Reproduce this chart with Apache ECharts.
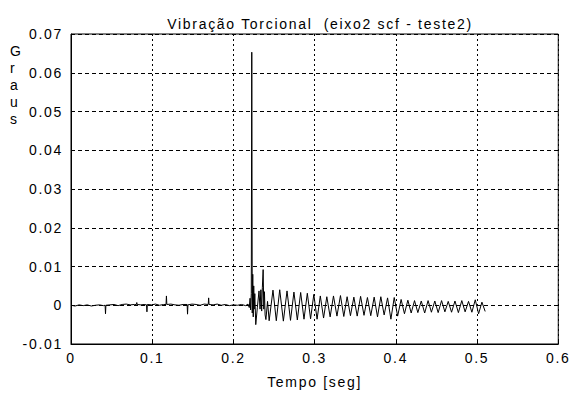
<!DOCTYPE html>
<html lang="pt">
<head>
    <meta charset="UTF-8">
    <title>Vibracao Torcional</title>
    <script src="https://cdn.jsdelivr.net/npm/echarts@6/dist/echarts.min.js"></script>
    <style>
        body { margin: 0; background: #fff; }
        #chart { width: 571px; height: 394px; }
        /* o grafico original tem letras bem espacadas */
        #chart text { letter-spacing: 1.7px; }
    </style>
</head>
<body>
<div id="chart"></div>
<script>
    // trecho calmo antes do impacto (tempo em s, graus)
    var quietT = [0, 0.005, 0.010, 0.015, 0.020, 0.025, 0.030, 0.035, 0.040, 0.042, 0.0425, 0.043,
        0.048, 0.053, 0.058, 0.063, 0.068, 0.073, 0.078, 0.0805, 0.081, 0.0815, 0.086, 0.090, 0.093, 0.0935, 0.094,
        0.099, 0.104, 0.109, 0.114, 0.117, 0.1175, 0.118, 0.123, 0.128, 0.133, 0.138, 0.143, 0.1435, 0.144,
        0.149, 0.154, 0.159, 0.164, 0.169, 0.1695, 0.170, 0.175, 0.180, 0.185, 0.190, 0.195, 0.200, 0.205,
        0.210, 0.215, 0.218];
    var quietV = [0, -0.0002, 0.0001, -0.0001, 0.0001, -0.0002, 0, 0.0001, -0.0001, 0, -0.0022, 0,
        0.0001, 0.0002, -0.0001, 0.0002, 0.0003, 0.0001, 0.0002, 0.0002, 0.0007, 0.0002, 0.0001, 0.0002, 0.0001, -0.0017, 0.0002,
        0.0001, 0.0003, 0, 0.0002, 0.0002, 0.0024, 0.0002, 0.0003, 0.0001, 0, 0.0002, 0.0002, -0.0023, 0.0001,
        0.0003, 0.0002, 0, 0.0003, 0.0002, 0.0019, 0.0002, 0.0001, 0.0003, 0, 0.0002, -0.0001, 0.0001, 0,
        0.0002, -0.0001, 0.0003];

    // impacto
    var burstT = [0.2195, 0.2205, 0.2212, 0.2220, 0.2226, 0.2232, 0.2238, 0.2244, 0.2250, 0.2256, 0.2263,
        0.2275, 0.2295, 0.2315, 0.2328, 0.2338, 0.2348, 0.2356, 0.2366, 0.2374, 0.2382, 0.2390, 0.2400,
        0.2420, 0.2440];
    var burstV = [-0.0006, 0.0018, -0.0012, 0.0030, 0.0653, -0.0020, 0.0080, -0.0030, 0.0050, -0.0010, 0.0030,
        -0.0050, -0.0005, 0.0037, -0.0010, 0.0040, -0.0015, 0.0045, 0.0092, -0.0010, 0.0035, -0.0025, -0.0037,
        0.0010, -0.0040];

    // oscilacao amortecida: picos e vales
    var ringT = [0.2487, 0.2528, 0.2570, 0.2615, 0.2660, 0.2703, 0.2745, 0.2787, 0.2828, 0.2869,
        0.2910, 0.2950, 0.2990, 0.3030, 0.3070, 0.3110, 0.3150, 0.3191, 0.3232, 0.3275,
        0.3318, 0.3359, 0.3400, 0.3441, 0.3483, 0.3524, 0.3566, 0.3608, 0.3650, 0.3691,
        0.3733, 0.3774, 0.3815, 0.3856, 0.3898, 0.3939, 0.3980, 0.4022, 0.4065, 0.4106,
        0.4148, 0.4189, 0.4230, 0.4271, 0.4313, 0.4355, 0.4397, 0.4438, 0.4480, 0.4521,
        0.4563, 0.4604, 0.4645, 0.4686, 0.4728, 0.4770, 0.4812, 0.4853, 0.4895, 0.4936,
        0.4978, 0.5019, 0.5060, 0.5100];
    var ringV = [0.0039, -0.0040, 0.0040, -0.0041, 0.0037, -0.0039, 0.0034, -0.0038, 0.0033, -0.0036,
        0.0031, -0.0035, 0.0028, -0.0036, 0.0024, -0.0033, 0.0022, -0.0030, 0.0024, -0.0028,
        0.0025, -0.0029, 0.0022, -0.0027, 0.0021, -0.0028, 0.0023, -0.0026, 0.0020, -0.0027,
        0.0021, -0.0030, 0.0022, -0.0025, 0.0019, -0.0036, 0.0020, -0.0028, 0.0015, -0.0022,
        0.0013, -0.0020, 0.0012, -0.0019, 0.0011, -0.0020, 0.0012, -0.0018, 0.0011, -0.0019,
        0.0012, -0.0017, 0.0010, -0.0018, 0.0011, -0.0019, 0.0012, -0.0017, 0.0010, -0.0018,
        0.0014, -0.0022, 0.0008, -0.0016];

    var xTicks = ['0', '0.1', '0.2', '0.3', '0.4', '0.5', '0.6'];

    var data = [];
    function addPts(ts, vs) {
        for (var i = 0; i < ts.length; i++) data.push([ts[i], vs[i]]);
    }
    addPts(quietT, quietV);
    addPts(burstT, burstV);
    addPts(ringT, ringV);

    var font = 'Liberation Sans, Arial, sans-serif';
    var myChart = echarts.init(document.getElementById('chart'), null, { renderer: 'svg' });
    var option = {
        animation: false,
        title: {
            text: 'Vibração Torcional  (eixo2 scf - teste2)',
            left: 315, top: 12, textAlign: 'center',
            textStyle: { fontFamily: font, fontSize: 14, fontWeight: 'normal', color: '#000' }
        },
        graphic: [{
            type: 'text', left: 10, top: 42,
            style: { text: 'G\nr\na\nu\ns', font: '14px ' + font, lineHeight: 17, fill: '#000', align: 'center' }
        }],
        grid: { left: 71, right: 12, top: 34, bottom: 40, show: true, borderColor: '#000', borderWidth: 1 },
        xAxis: {
            type: 'value', min: 0, max: 0.6, interval: 0.1,
            name: 'Tempo [seg]', nameLocation: 'middle', nameGap: 31,
            nameTextStyle: { fontFamily: font, fontSize: 14, color: '#000' },
            axisLine: { show: true, onZero: false, lineStyle: { color: '#000' } },
            axisTick: { inside: true, length: 4, lineStyle: { color: '#000' } },
            axisLabel: { margin: 7, fontFamily: font, fontSize: 14, color: '#000',
                formatter: function (v) { return xTicks[Math.round(v * 10)]; } },
            splitLine: { show: true, lineStyle: { color: '#000', type: [2, 3], width: 1 } }
        },
        yAxis: {
            type: 'value', min: -0.01, max: 0.07, interval: 0.01,
            axisLine: { show: true, lineStyle: { color: '#000' } },
            axisTick: { show: true, inside: true, length: 4, lineStyle: { color: '#000' } },
            axisLabel: { margin: 8, fontFamily: font, fontSize: 14, color: '#000',
                formatter: function (v) { return Math.abs(v) < 1e-9 ? '0' : (+v.toFixed(2)).toString(); } },
            splitLine: { show: true, lineStyle: { color: '#000', type: [4, 3], width: 1 } }
        },
        series: [{
            type: 'line',
            data: data,
            showSymbol: false,
            lineStyle: { color: '#000', width: 1 }
        }]
    };
    myChart.setOption(option);
</script>
</body>
</html>
